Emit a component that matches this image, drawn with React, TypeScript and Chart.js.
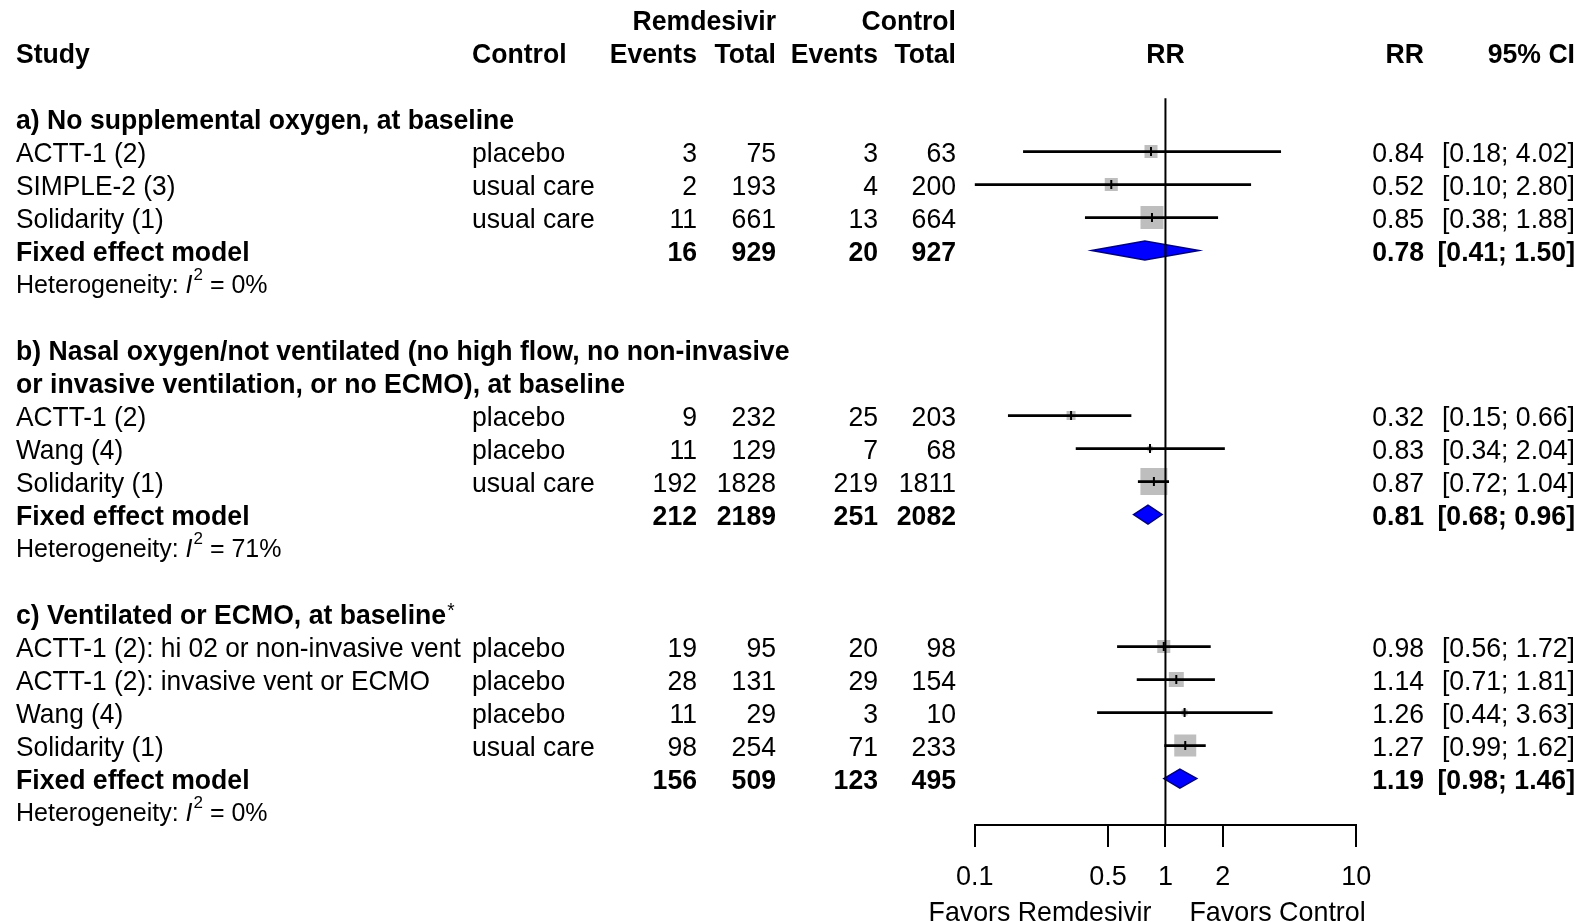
import React, { useEffect, useRef } from 'react';
import { Chart, registerables } from 'chart.js';

Chart.register(...registerables);

const FONT = '"Liberation Sans", Arial, Helvetica, sans-serif';

// ---------- data ----------
const studyLabels = [
  'ACTT-1 (2)', 'SIMPLE-2 (3)', 'Solidarity (1)',
  'ACTT-1 (2)', 'Wang (4)', 'Solidarity (1)',
  'ACTT-1 (2): hi 02 or non-invasive vent', 'ACTT-1 (2): invasive vent or ECMO', 'Wang (4)', 'Solidarity (1)',
];
const studyRows = [3, 4, 5, 11, 12, 13, 18, 19, 20, 21];
const controlType = ['placebo', 'usual care', 'usual care', 'placebo', 'placebo', 'usual care', 'placebo', 'placebo', 'placebo', 'usual care'];
const eventsRem = [3, 2, 11, 9, 11, 192, 19, 28, 11, 98];
const totalRem = [75, 193, 661, 232, 129, 1828, 95, 131, 29, 254];
const eventsCon = [3, 4, 13, 25, 7, 219, 20, 29, 3, 71];
const totalCon = [63, 200, 664, 203, 68, 1811, 98, 154, 10, 233];
const rr = [0.84, 0.52, 0.85, 0.32, 0.83, 0.87, 0.98, 1.14, 1.26, 1.27];
const lower = [0.18, 0.10, 0.38, 0.15, 0.34, 0.72, 0.56, 0.71, 0.44, 0.99];
const upper = [4.02, 2.80, 1.88, 0.66, 2.04, 1.04, 1.72, 1.81, 3.63, 1.62];
const weights = [6.5, 6.5, 20.2, 3.1, 1.0, 27.9, 6.5, 8.6, 1.4, 18.5];

const subRows = [6, 14, 22];
const subEventsRem = [16, 212, 156];
const subTotalRem = [929, 2189, 509];
const subEventsCon = [20, 251, 123];
const subTotalCon = [927, 2082, 495];
const subRR = [0.78, 0.81, 1.19];
const subLower = [0.41, 0.68, 0.98];
const subUpper = [1.50, 0.96, 1.46];
const hetRows = [7, 15, 23];
const hetI2 = ['0%', '71%', '0%'];

const headingRows = [2, 9, 10, 17];
const headingTexts = [
  'a) No supplemental oxygen, at baseline',
  'b) Nasal oxygen/not ventilated (no high flow, no non-invasive',
  'or invasive ventilation, or no ECMO), at baseline',
  'c) Ventilated or ECMO, at baseline*',
];

const groupHeaders = ['Remdesivir', 'Control'];
const columnHeaders = ['Study', 'Control', 'Events', 'Total', 'Events', 'Total', 'RR', 'RR', '95% CI'];
const axisTicks = [0.1, 0.5, 1, 2, 10];
const favorsLabels = ['Favors Remdesivir', 'Favors Control'];
const summaryLabel = 'Fixed effect model';

// ---------- layout constants ----------
const W = 1587;
const H = 922;
const PLOT_LEFT = 974.7;
const PLOT_RIGHT = 1356.2;
const PLOT_BOTTOM = 825;
const ROW0 = 52.6;
const ROW_STEP = 33;
const Y_MIN = -ROW0 / ROW_STEP;
const Y_MAX = (PLOT_BOTTOM - ROW0) / ROW_STEP;

const COL_STUDY = 16;
const COL_CONTROL = 472;
const COL_EV_E = 697;
const COL_N_E = 776;
const COL_EV_C = 878;
const COL_N_C = 956;
const COL_RR = 1424;
const COL_CI = 1575;

const FS = 28;
const SX = 0.95;

const fmt = (v: number) => v.toFixed(2);
const ciText = (lo: number, hi: number) => `[${fmt(lo)}; ${fmt(hi)}]`;

function fontStr(size: number, bold = false, italic = false) {
  return `${italic ? 'italic ' : ''}${bold ? 'bold ' : ''}${size}px ${FONT}`;
}

function drawText(
  ctx: CanvasRenderingContext2D, s: string, x: number, y: number,
  align: CanvasTextAlign, bold = false, size = FS, sx = SX, italic = false,
) {
  ctx.save();
  ctx.font = fontStr(size, bold, italic);
  ctx.fillStyle = '#000';
  ctx.textBaseline = 'alphabetic';
  ctx.textAlign = align;
  ctx.translate(x, y + size * 0.36);
  ctx.scale(sx, 1);
  ctx.fillText(s, 0, 0);
  ctx.restore();
}

function measure(ctx: CanvasRenderingContext2D, s: string, size: number, sx: number, bold = false, italic = false) {
  ctx.save();
  ctx.font = fontStr(size, bold, italic);
  const w = ctx.measureText(s).width * sx;
  ctx.restore();
  return w;
}

const forestPlugin = {
  id: 'forestExtras',
  afterDatasetsDraw(chart: any) {
    const ctx: CanvasRenderingContext2D = chart.ctx;
    const xs = chart.scales.x;
    const ys = chart.scales.y;
    const half = 9.5;
    ctx.save();
    subRows.forEach((row, i) => {
      const yc = ys.getPixelForValue(row);
      const xl = xs.getPixelForValue(subLower[i]);
      const xm = xs.getPixelForValue(subRR[i]);
      const xh = xs.getPixelForValue(subUpper[i]);
      ctx.beginPath();
      ctx.moveTo(xl, yc);
      ctx.lineTo(xm, yc - half);
      ctx.lineTo(xh, yc);
      ctx.lineTo(xm, yc + half);
      ctx.closePath();
      ctx.fillStyle = '#0000ff';
      ctx.fill();
      ctx.lineWidth = 1.5;
      ctx.strokeStyle = '#000080';
      ctx.stroke();
    });
    const x1 = xs.getPixelForValue(1);
    ctx.beginPath();
    ctx.moveTo(x1, ys.getPixelForValue(1.38));
    ctx.lineTo(x1, chart.chartArea.bottom);
    ctx.lineWidth = 2;
    ctx.strokeStyle = '#000';
    ctx.stroke();
    ctx.restore();
  },
  afterDraw(chart: any) {
    const ctx: CanvasRenderingContext2D = chart.ctx;
    const xs = chart.scales.x;
    const ys = chart.scales.y;
    const Y = (r: number) => ys.getPixelForValue(r);
    const plotCenter = (chart.chartArea.left + chart.chartArea.right) / 2;

    // group headers
    drawText(ctx, groupHeaders[0], COL_N_E, Y(-1), 'right', true);
    drawText(ctx, groupHeaders[1], COL_N_C, Y(-1), 'right', true);
    // column headers
    const hx = [COL_STUDY, COL_CONTROL, COL_EV_E, COL_N_E, COL_EV_C, COL_N_C, plotCenter, COL_RR, COL_CI];
    const ha: CanvasTextAlign[] = ['left', 'left', 'right', 'right', 'right', 'right', 'center', 'right', 'right'];
    columnHeaders.forEach((h, i) => drawText(ctx, h, hx[i], Y(0), ha[i], true));

    headingRows.forEach((r, i) => {
      const t = headingTexts[i];
      if (t.endsWith('*')) {
        const base = t.slice(0, -1);
        drawText(ctx, base, COL_STUDY, Y(r), 'left', true);
        const wBase = measure(ctx, base, FS, SX, true);
        drawText(ctx, '*', COL_STUDY + wBase + 1, Y(r) - 4, 'left', false, 20, SX);
      } else {
        drawText(ctx, t, COL_STUDY, Y(r), 'left', true);
      }
    });

    studyRows.forEach((r, i) => {
      const y = Y(r);
      drawText(ctx, studyLabels[i], COL_STUDY, y, 'left', false, FS, 0.94);
      drawText(ctx, controlType[i], COL_CONTROL, y, 'left');
      drawText(ctx, String(eventsRem[i]), COL_EV_E, y, 'right');
      drawText(ctx, String(totalRem[i]), COL_N_E, y, 'right');
      drawText(ctx, String(eventsCon[i]), COL_EV_C, y, 'right');
      drawText(ctx, String(totalCon[i]), COL_N_C, y, 'right');
      drawText(ctx, fmt(rr[i]), COL_RR, y, 'right');
      drawText(ctx, ciText(lower[i], upper[i]), COL_CI, y, 'right');
    });

    subRows.forEach((r, i) => {
      const y = Y(r);
      drawText(ctx, summaryLabel, COL_STUDY, y, 'left', true);
      drawText(ctx, String(subEventsRem[i]), COL_EV_E, y, 'right', true);
      drawText(ctx, String(subTotalRem[i]), COL_N_E, y, 'right', true);
      drawText(ctx, String(subEventsCon[i]), COL_EV_C, y, 'right', true);
      drawText(ctx, String(subTotalCon[i]), COL_N_C, y, 'right', true);
      drawText(ctx, fmt(subRR[i]), COL_RR, y, 'right', true);
      drawText(ctx, ciText(subLower[i], subUpper[i]), COL_CI, y, 'right', true);
    });

    // heterogeneity lines with I^2
    const hs = 25;
    const hsx = 1.0;
    hetRows.forEach((r, i) => {
      const y = Y(r);
      let x = COL_STUDY;
      const p1 = 'Heterogeneity: ';
      drawText(ctx, p1, x, y, 'left', false, hs, hsx);
      x += measure(ctx, p1, hs, hsx);
      drawText(ctx, 'I', x, y, 'left', false, hs, hsx, true);
      x += measure(ctx, 'I', hs, hsx, false, true) + 1;
      drawText(ctx, '2', x, y - 10, 'left', false, 17, hsx);
      x += measure(ctx, '2', 17, hsx);
      drawText(ctx, ` = ${hetI2[i]}`, x, y, 'left', false, hs, hsx);
    });

    // favors labels
    const x1 = xs.getPixelForValue(1);
    drawText(ctx, favorsLabels[0], x1 - 14, Y(26), 'right', false, FS, 0.955);
    drawText(ctx, favorsLabels[1], x1 + 24, Y(26), 'left', false, FS, 0.96);
  },
};

export default function App() {
  const ref = useRef<HTMLCanvasElement | null>(null);

  useEffect(() => {
    const canvas = ref.current;
    if (!canvas) return;
    const sideMax = 27;
    const wMax = Math.max(...weights);
    const squareRadius = weights.map((w) => (sideMax * Math.sqrt(w / wMax)) / Math.SQRT2);

    const chart = new Chart(canvas, {
      type: 'bar',
      data: {
        datasets: [
          {
            type: 'scatter',
            label: 'estimate',
            data: studyRows.map((r, i) => ({ x: rr[i], y: r })),
            pointStyle: 'line',
            pointRotation: 90,
            pointRadius: 4.5,
            pointHoverRadius: 4.5,
            pointBorderColor: '#000',
            pointBorderWidth: 2,
            pointBackgroundColor: '#000',
            showLine: false,
          } as any,
          {
            type: 'bar',
            label: 'CI',
            data: studyRows.map((r, i) => ({ x: [lower[i], upper[i]], y: r })),
            backgroundColor: '#000',
            borderWidth: 0,
            barThickness: 2,
            indexAxis: 'y',
          } as any,
          {
            type: 'scatter',
            label: 'weight',
            data: studyRows.map((r, i) => ({ x: rr[i], y: r })),
            pointStyle: 'rect',
            pointRadius: squareRadius,
            pointHoverRadius: squareRadius,
            pointBackgroundColor: '#bebebe',
            pointBorderWidth: 0,
            pointBorderColor: '#bebebe',
            showLine: false,
          } as any,
        ],
      },
      options: {
        indexAxis: 'y',
        responsive: false,
        animation: false,
        devicePixelRatio: 1,
        events: [],
        layout: { autoPadding: false, padding: { left: PLOT_LEFT, right: W - PLOT_RIGHT, top: 0, bottom: 0 } },
        plugins: { legend: { display: false }, tooltip: { enabled: false }, title: { display: false } },
        scales: {
          x: {
            type: 'logarithmic',
            position: 'bottom',
            min: 0.1,
            max: 10,
            afterBuildTicks: (s: any) => { s.ticks = axisTicks.map((v) => ({ value: v })); },
            afterFit: (s: any) => { s.height = H - PLOT_BOTTOM; },
            border: { display: true, color: '#000', width: 2 },
            grid: {
              display: true, drawOnChartArea: false, drawTicks: true, tickLength: 22,
              color: '#000', tickColor: '#000', lineWidth: 2, tickWidth: 2,
            },
            ticks: {
              color: '#000', font: { family: FONT, size: 27 }, padding: 14,
              autoSkip: false, maxRotation: 0, minRotation: 0,
              callback: (v: any) => String(v),
            },
          } as any,
          y: {
            type: 'linear',
            display: false,
            reverse: true,
            offset: false,
            min: Y_MIN,
            max: Y_MAX,
            grid: { display: false },
          } as any,
        },
      },
      plugins: [forestPlugin],
    });
    return () => chart.destroy();
  }, []);

  return (
    <div style={{ position: 'fixed', left: 0, top: 0, width: W, height: H, background: '#fff' }}>
      <canvas ref={ref} width={W} height={H} style={{ display: 'block', width: W, height: H }} />
    </div>
  );
}
